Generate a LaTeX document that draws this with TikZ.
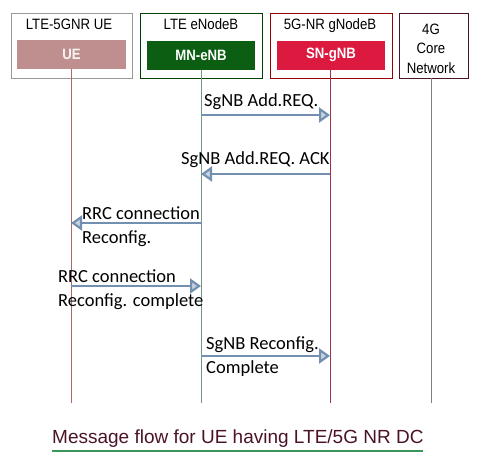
\documentclass[tikz,border=0pt]{standalone}
\usepackage{fontspec}
\setmainfont{Carlito}
\newfontfamily\hdr[FakeStretch=0.88]{Liberation Sans}
\newfontfamily\capt{Liberation Sans}
\usetikzlibrary{arrows.meta}
\definecolor{uefill}{HTML}{BF8F8F}
\definecolor{mnfill}{HTML}{0B5E12}
\definecolor{snfill}{HTML}{DC1A40}
\definecolor{msg}{HTML}{7390B0}
\definecolor{captc}{HTML}{4A1426}
\definecolor{uline}{HTML}{A86A6A}
\definecolor{mline}{HTML}{6F9A80}
\definecolor{sline}{HTML}{A03048}
\definecolor{gline}{HTML}{808080}
\tikzset{
  outer/.style={draw, line width=0.9pt, minimum width=#1, minimum height=65pt, inner sep=0pt},
  inner/.style={fill=#1, minimum width=108pt, minimum height=29pt, inner sep=0pt, text=white, font=\hdr\fontsize{15}{15}\selectfont\bfseries},
  head/.style={font=\hdr\fontsize{15}{15}\selectfont, inner sep=0pt},
  life/.style={line width=0.8pt},
  msgarrow/.style={draw=msg, line width=2.6pt, -{Triangle[open, length=11pt, width=15pt, line width=2.2pt, fill=msg!40]}},
  lbl/.style={font=\fontsize{18.5}{24}\selectfont, inner sep=0pt, anchor=base west, align=left}
}
\begin{document}
\begin{tikzpicture}[x=1pt,y=-1pt]
\useasboundingbox (0,0) rectangle (478,466);
% header boxes
\node[outer=121pt, draw=gray!80] (b1) at (71.5,45.5) {};
\node[outer=122pt, draw=black!75!green] (b2) at (201,45.5) {};
\node[outer=122pt, draw=black!40!red] (b3) at (331,45.5) {};
\node[outer=69pt, draw=captc] (b4) at (433.5,45.5) {};
\node[inner=uefill, minimum width=109pt, text=white!90!uefill] (ue) at (71.5,54.5) {UE};
\node[inner=mnfill] (mn) at (201,55) {MN-eNB};
\node[inner=snfill] (sn) at (331,55) {SN-gNB};
\node[head, anchor=base] (h1) at (69,29) {LTE-5GNR UE};
\node[head, anchor=base] (h2) at (201,29) {LTE eNodeB};
\node[head, anchor=base] (h3) at (330,29) {5G-NR gNodeB};
\node[head, anchor=base, align=center, font=\hdr\fontsize{15}{19.5}\selectfont] (h4) at (431,73) {4G\\Core\\Network};
% lifelines
\coordinate (uet) at (71,69);   \coordinate (ueb) at (71,403);
\coordinate (mnt) at (201,70);  \coordinate (mnb) at (201,403);
\coordinate (snt) at (330,70);  \coordinate (snb) at (330,403);
\coordinate (gt) at (431,78);   \coordinate (gb) at (431,403);
\draw[life, uline] (uet) -- (ueb);
\draw[life, mline] (mnt) -- (mnb);
\draw[life, sline] (snt) -- (snb);
\draw[life, gline] (gt) -- (gb);
% messages
\coordinate (m1a) at (201,115); \coordinate (m1b) at (330,115);
\coordinate (m2a) at (330,174); \coordinate (m2b) at (201,174);
\coordinate (m3a) at (202,223); \coordinate (m3b) at (71,223);
\coordinate (m4a) at (71,286);  \coordinate (m4b) at (201,286);
\coordinate (m5a) at (201,356); \coordinate (m5b) at (330,356);
\draw[msgarrow] (m1a) -- (m1b);
\draw[msgarrow] (m2a) -- (m2b);
\draw[msgarrow] (m3a) -- (m3b);
\draw[msgarrow] (m4a) -- (m4b);
\draw[msgarrow] (m5a) -- (m5b);
\node[lbl] (l1) at (204,106) {SgNB Add.REQ.};
\node[lbl] (l2) at (181,164) {SgNB Add.REQ. ACK};
\node[lbl] (l3) at (82,243) {RRC connection\\Reconfig.};
\node[lbl] (l4) at (58,306) {RRC connection\\Reconfig. complete};
\node[lbl] (l5) at (206,373) {SgNB Reconfig.\\Complete};
% caption
\node[font=\capt\fontsize{19}{19}\selectfont, text=captc, inner sep=0pt, anchor=base west] (cap) at (52,443) {Message flow for UE having LTE/5G NR DC};
\coordinate (ul1) at (52,451); \coordinate (ul2) at (423,451);
\draw[line width=2.6pt, draw={rgb,255:red,60;green,150;blue,90}] (ul1) -- (ul2);
\end{tikzpicture}
\end{document}
